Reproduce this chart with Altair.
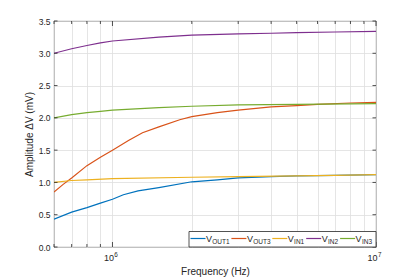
import altair as alt
import pandas as pd

# ---------------- data ----------------
freq_out1 = [6e5, 7e5, 8e5, 9e5, 1e6, 1.1e6, 1.25e6, 1.5e6, 2e6, 2.5e6, 3e6, 4e6, 5e6, 7e6, 1e7]
v_out1 = [0.43, 0.54, 0.61, 0.68, 0.74, 0.81, 0.87, 0.92, 1.01, 1.04, 1.07, 1.09, 1.10, 1.11, 1.12]

freq_out3 = [6e5, 6.5e5, 7e5, 8e5, 9e5, 1e6, 1.15e6, 1.3e6, 1.5e6, 1.8e6, 2e6, 2.5e6, 3e6, 4e6, 5e6, 6e6, 8e6, 1e7]
v_out3 = [0.85, 0.97, 1.07, 1.26, 1.39, 1.50, 1.65, 1.77, 1.86, 1.97, 2.02, 2.08, 2.12, 2.17, 2.19, 2.21, 2.23, 2.24]

freq_in1 = [6e5, 7e5, 8e5, 1e6, 2e6, 3e6, 5e6, 7e6, 1e7]
v_in1 = [1.00, 1.03, 1.04, 1.06, 1.08, 1.09, 1.10, 1.11, 1.12]

freq_in2 = [6e5, 7e5, 8e5, 9e5, 1e6, 1.5e6, 2e6, 3e6, 4e6, 5e6, 7e6, 1e7]
v_in2 = [3.00, 3.07, 3.12, 3.16, 3.19, 3.25, 3.28, 3.30, 3.31, 3.32, 3.33, 3.34]

freq_in3 = [6e5, 7e5, 8e5, 9e5, 1e6, 1.5e6, 2e6, 3e6, 5e6, 1e7]
v_in3 = [2.00, 2.05, 2.08, 2.10, 2.12, 2.16, 2.18, 2.20, 2.21, 2.22]

series_names = ["OUT1", "OUT3", "IN1", "IN2", "IN3"]
series_colors = ["#0072BD", "#D95319", "#EDB120", "#7E2F8E", "#77AC30"]

x_grid = [6e5, 7e5, 8e5, 9e5, 1e6, 2e6, 3e6, 4e6, 5e6, 6e6, 7e6, 8e6, 9e6, 1e7]
x_major = [1e6, 1e7]
x_major_exp = ["6", "7"]
y_ticks = [0.0, 0.5, 1.0, 1.5, 2.0, 2.5, 3.0, 3.5]

# ---------------- build tables ----------------
rows = []
for order, (name, fs, vs) in enumerate(zip(series_names,
                                           [freq_out1, freq_out3, freq_in1, freq_in2, freq_in3],
                                           [v_out1, v_out3, v_in1, v_in2, v_in3])):
    for f, v in zip(fs, vs):
        rows.append({"series": name, "order": order, "freq": f, "val": v})
df = pd.DataFrame(rows)

W, H = 322, 226
FONT = "Liberation Sans"
AX = "#262626"

xscale = alt.Scale(type="log", domain=[6e5, 1e7], nice=False)
yscale = alt.Scale(domain=[0, 3.5], nice=False)

xaxis = alt.Axis(values=x_grid, title="Frequency (Hz)", labels=False,
                 ticks=False, domain=False, grid=True, gridColor="#dedede", gridWidth=0.8,
                 titleFont=FONT, titleFontSize=10, titleFontWeight="normal", titleColor=AX,
                 titlePadding=19)
yaxis = alt.Axis(values=y_ticks, format=".1f", title="Amplitude ΔV (mV)",
                 ticks=False, domain=False, grid=True, gridColor="#dedede", gridWidth=0.8,
                 labelFont=FONT, labelFontSize=8.5, labelColor=AX, labelPadding=4,
                 labelOverlap=False, labelFlush=False,
                 titleFont=FONT, titleFontSize=10, titleFontWeight="normal", titleColor=AX,
                 titlePadding=4)

lines = alt.Chart(df).mark_line(strokeWidth=1.2, clip=True).encode(
    x=alt.X("freq:Q", scale=xscale, axis=xaxis),
    y=alt.Y("val:Q", scale=yscale, axis=yaxis),
    color=alt.Color("series:N", scale=alt.Scale(domain=series_names, range=series_colors), legend=None),
    detail="series:N",
    order=alt.Order("freq:Q"),
)

# x tick labels 10^n with real superscripts
lab_df = pd.DataFrame({"freq": x_major, "exp": x_major_exp})
lab_base = alt.Chart(lab_df).mark_text(align="right", baseline="alphabetic", font=FONT,
                                       fontSize=9, color=AX, dx=1.5).encode(
    x=alt.X("freq:Q", scale=xscale, axis=xaxis), y=alt.value(H + 14.3), text=alt.value("10"))
lab_exp = alt.Chart(lab_df).mark_text(align="left", baseline="alphabetic", font=FONT,
                                      fontSize=6.3, color=AX, dx=1.9).encode(
    x=alt.X("freq:Q", scale=xscale, axis=xaxis), y=alt.value(H + 10.2), text="exp:N")

# inward ticks
tick_df = pd.DataFrame({"freq": x_grid, "len": [5 if f in x_major else 3 for f in x_grid]})
top_ticks = alt.Chart(tick_df).transform_calculate(y0="0").mark_rule(
    color=AX, strokeWidth=0.8).encode(
    x=alt.X("freq:Q", scale=xscale, axis=xaxis),
    y=alt.Y("y0:Q", scale=None), y2=alt.Y2("len:Q"))
bottom_ticks = alt.Chart(tick_df).transform_calculate(
    y0=str(H), y1=f"{H} - datum.len").mark_rule(color=AX, strokeWidth=0.8).encode(
    x=alt.X("freq:Q", scale=xscale, axis=xaxis),
    y=alt.Y("y0:Q", scale=None), y2=alt.Y2("y1:Q"))
ytick_df = pd.DataFrame({"val": y_ticks})
left_ticks = alt.Chart(ytick_df).mark_rule(color=AX, strokeWidth=0.8).encode(
    y=alt.Y("val:Q", scale=yscale, axis=yaxis), x=alt.value(0), x2=alt.value(3.5))
right_ticks = alt.Chart(ytick_df).mark_rule(color=AX, strokeWidth=0.8).encode(
    y=alt.Y("val:Q", scale=yscale, axis=yaxis), x=alt.value(W - 3.5), x2=alt.value(W))

# ---------------- manual legend (subscripted labels) ----------------
leg_x0 = 135
line_len = 15
v_w = 6.3
sub_fs = 6.5
sub_w = {"OUT1": 17.6, "OUT3": 17.6, "IN1": 10.6, "IN2": 10.6, "IN3": 10.6}
items = []
cx = leg_x0 + 1.5
for name, col in zip(series_names, series_colors):
    items.append({"name": name, "color": col, "lx0": cx, "lx1": cx + line_len,
                  "vx": cx + line_len + 0.5, "sx": cx + line_len + 0.5 + v_w})
    cx = cx + line_len + 0.5 + v_w + sub_w[name] + 1.5
leg_df = pd.DataFrame(items)
leg_right = W

leg_box = alt.Chart(pd.DataFrame({"a": [0]})).mark_rect(
    fill="white", stroke=AX, strokeWidth=0.8).encode(
    x=alt.value(leg_x0), x2=alt.value(leg_right), y=alt.value(H - 15.5), y2=alt.value(H))
leg_lines = alt.Chart(leg_df).mark_rule(strokeWidth=1.2).encode(
    x=alt.X("lx0:Q", scale=None), x2=alt.X2("lx1:Q"), y=alt.value(H - 8.5),
    color=alt.Color("color:N", scale=None))
leg_v = alt.Chart(leg_df).mark_text(align="left", baseline="alphabetic", font=FONT,
                                    fontSize=9, color=AX).encode(
    x=alt.X("vx:Q", scale=None), y=alt.value(H - 5), text=alt.value("V"))
leg_sub = alt.Chart(leg_df).mark_text(align="left", baseline="alphabetic", font=FONT,
                                      fontSize=sub_fs, color=AX).encode(
    x=alt.X("sx:Q", scale=None), y=alt.value(H - 2.6), text="name:N")

chart = alt.layer(lines, lab_base, lab_exp, top_ticks, bottom_ticks, left_ticks, right_ticks,
                  leg_box, leg_lines, leg_v, leg_sub).properties(
    width=W, height=H,
    padding={"left": 46, "top": 13, "right": 30, "bottom": 30},
    autosize="none",
    background="white",
).configure_view(stroke=AX, strokeWidth=0.9)

chart.save("out.html", embed_options={"renderer": "svg", "actions": False})
